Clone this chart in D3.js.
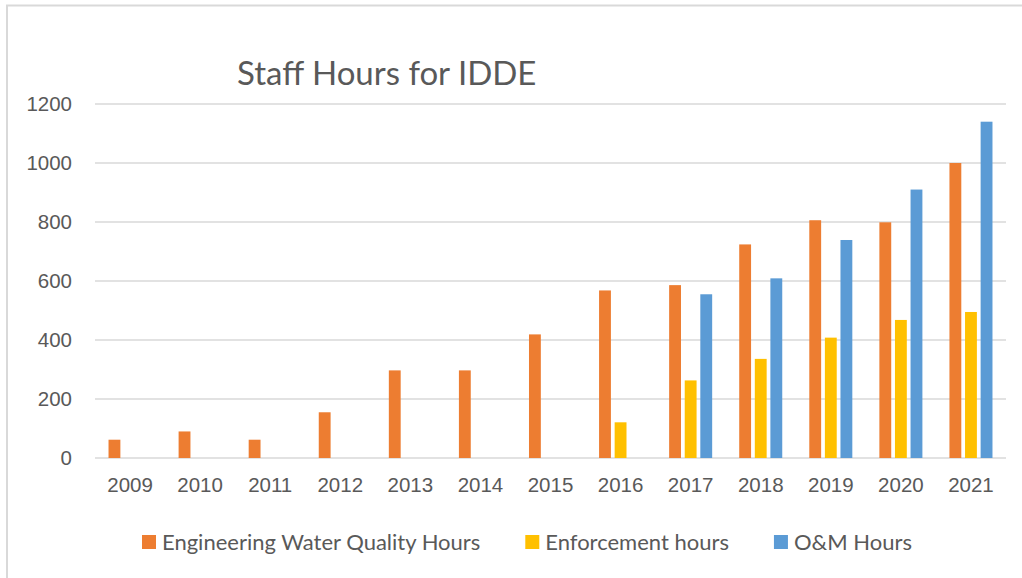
<!DOCTYPE html>
<html>
<head>
<meta charset="utf-8">
<script src="https://cdn.jsdelivr.net/npm/d3@7"></script>
<style>
    body { margin: 0; background: #fff; }
    svg { display: block; font-family: Lato, "Open Sans", sans-serif; }
    .grid line { stroke: #d9d9d9; stroke-width: 1.5; }
    .axis text, .legende text { fill: #595959; }
</style>
</head>
<body>
<div id="chart"></div>
<script>
(function () {
    "use strict";

    var years = ["2009", "2010", "2011", "2012", "2013", "2014", "2015",
                 "2016", "2017", "2018", "2019", "2020", "2021"],
        engineering = [62, 90, 62, 155, 297, 297, 419, 568, 586, 724, 806, 799, 1000],
        enforcement = [null, null, null, null, null, null, null, 121, 263, 336, 408, 468, 495],
        om = [null, null, null, null, null, null, null, null, 555, 609, 739, 910, 1140],
        yTicks = [0, 200, 400, 600, 800, 1000, 1200],
        series = [
            { name: "Engineering Water Quality Hours", values: engineering, color: "#ED7D31" },
            { name: "Enforcement hours", values: enforcement, color: "#FFC000" },
            { name: "O&M Hours", values: om, color: "#5B9BD5" }
        ],

        widthGlobal = 1022,
        heightGlobal = 578,
        margin = {top: 104, right: 16, bottom: 120, left: 95},
        width = widthGlobal - margin.left - margin.right,
        height = heightGlobal - margin.top - margin.bottom,

        x0 = d3.scaleBand()
        .domain(years)
        .range([0, width])
        .paddingInner(0.386)
        .paddingOuter(0.193),

        x1 = d3.scaleBand()
        .domain(series.map(function (s) { return s.name; }))
        .range([0, x0.bandwidth()])
        .paddingInner(0.24),

        y = d3.scaleLinear()
        .domain([0, 1200])
        .range([height, 0]),

        svg = d3.select("#chart").append("svg")
        .attr("width", widthGlobal)
        .attr("height", heightGlobal),

        chart = svg.append("g")
        .attr("transform", "translate(" + margin.left + "," + margin.top + ")");

    // bordure du cadre (haut et gauche seulement)
    svg.append("path")
        .attr("d", "M7,578 V5.5 H1022")
        .attr("fill", "none")
        .attr("stroke", "#d9d9d9")
        .attr("stroke-width", 2);

    svg.append("text")
        .attr("x", 237)
        .attr("y", 85)
        .attr("fill", "#595959")
        .style("font-size", "33px")
        .text("Staff Hours for IDDE");

    chart.append("g").attr("class", "grid").selectAll("line")
        .data(yTicks)
        .enter().append("line")
        .attr("x1", 0)
        .attr("x2", width)
        .attr("y1", function (d) { return y(d); })
        .attr("y2", function (d) { return y(d); });

    series.forEach(function (s) {
        chart.append("g").selectAll("rect")
            .data(years.map(function (yr, i) { return { annee: yr, v: s.values[i] }; })
                .filter(function (d) { return d.v !== null; }))
            .enter().append("rect")
            .attr("x", function (d) { return x0(d.annee) + x1(s.name); })
            .attr("width", x1.bandwidth())
            .attr("y", function (d) { return y(d.v); })
            .attr("height", function (d) { return y(0) - y(d.v); })
            .attr("fill", s.color);
    });

    var yAxis = chart.append("g")
        .attr("class", "y axis")
        .call(d3.axisLeft(y).tickValues(yTicks).tickFormat(d3.format("d")).tickSize(0).tickPadding(23));
    yAxis.select(".domain").remove();
    yAxis.selectAll("text").style("font-size", "20.5px");

    var xAxis = chart.append("g")
        .attr("class", "x axis")
        .attr("transform", "translate(0," + height + ")")
        .call(d3.axisBottom(x0).tickSize(0).tickPadding(19));
    xAxis.select(".domain").remove();
    xAxis.selectAll("text").style("font-size", "20.5px");

    // légende
    var legende = svg.append("g").attr("class", "legende"),
        cursor = 142;
    series.forEach(function (s) {
        legende.append("rect")
            .attr("x", cursor)
            .attr("y", 535)
            .attr("width", 14)
            .attr("height", 14)
            .attr("fill", s.color);
        var t = legende.append("text")
            .attr("x", cursor + 20)
            .attr("y", 550)
            .style("font-size", "22px")
            .text(s.name);
        cursor += 20 + t.node().getComputedTextLength() + 45;
    });
}());
</script>
</body>
</html>
